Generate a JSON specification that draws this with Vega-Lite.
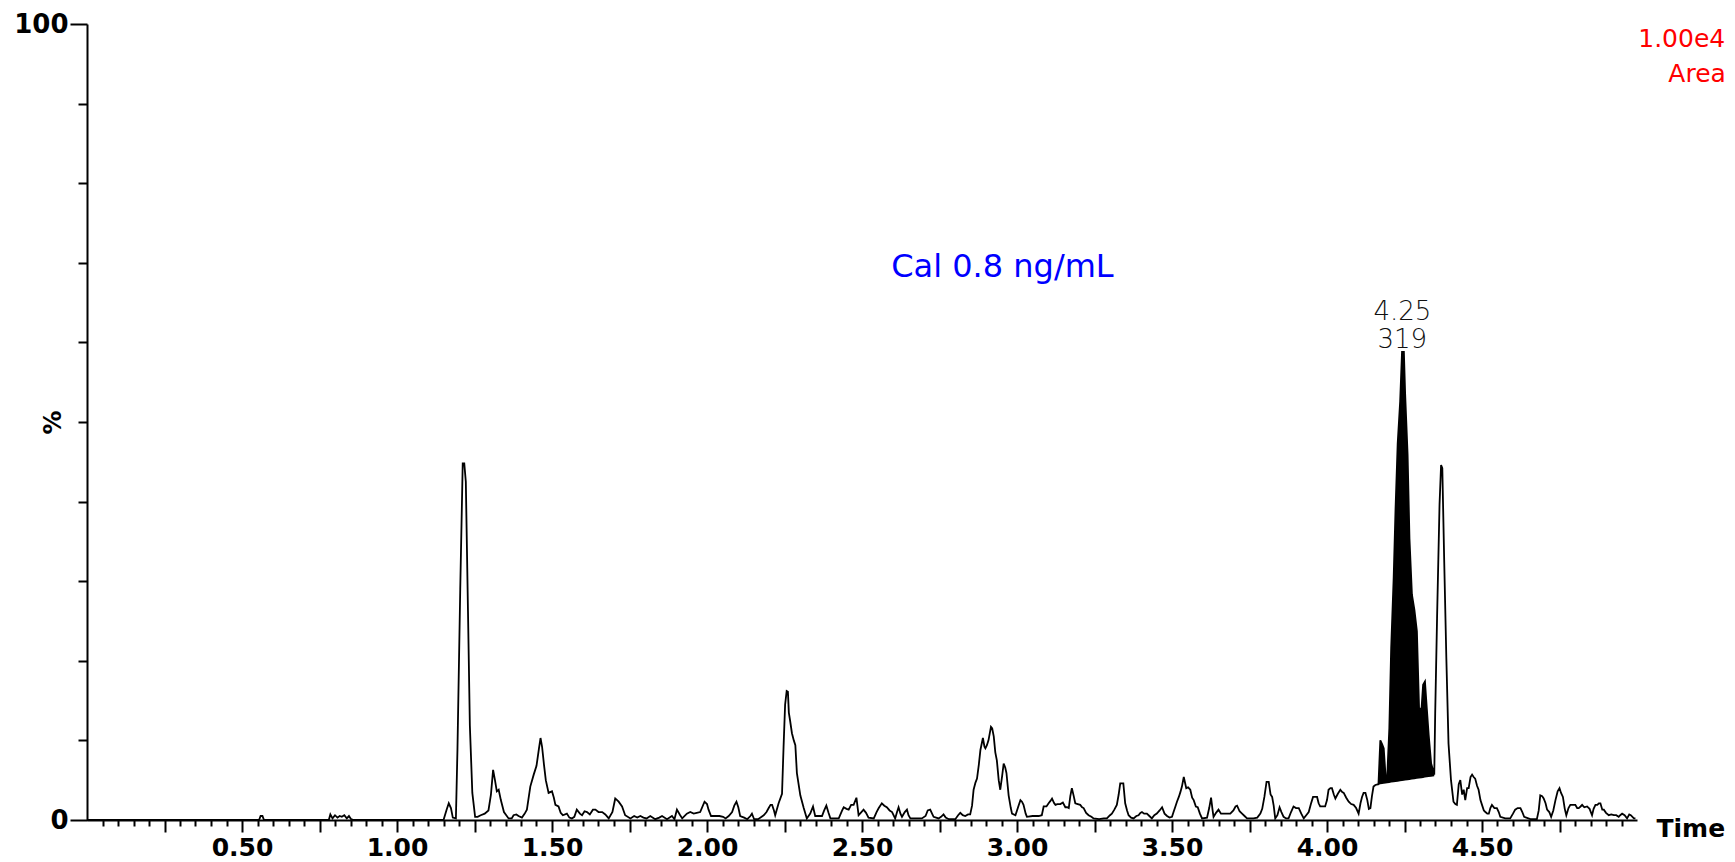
{
  "$schema": "https://vega.github.io/schema/vega-lite/v6.json",
  "width": 1550,
  "height": 796,
  "autosize": {"type": "none"},
  "padding": {"left": 87, "top": 24, "right": 98, "bottom": 42},
  "background": "white",
  "config": {"view": {"stroke": null}, "font": "DejaVu Sans"},
  "datasets": {
    "trace": [
      {"t":0.000,"v":0},{"t":0.555,"v":0},{"t":0.560,"v":0.5},{"t":0.566,"v":0.5},{"t":0.571,"v":0},{"t":0.780,"v":0},
      {"t":0.785,"v":0.7},{"t":0.792,"v":0.2},{"t":0.800,"v":0.6},{"t":0.808,"v":0.3},{"t":0.815,"v":0.5},{"t":0.822,"v":0.4},
      {"t":0.830,"v":0.6},{"t":0.838,"v":0.2},{"t":0.845,"v":0.5},{"t":0.852,"v":0.1},{"t":0.860,"v":0},{"t":1.150,"v":0},
      {"t":1.160,"v":1.3},{"t":1.167,"v":2.1},{"t":1.174,"v":1.5},{"t":1.180,"v":0.3},{"t":1.190,"v":0.2},{"t":1.195,"v":8.8},
      {"t":1.204,"v":29},{"t":1.212,"v":44.8},{"t":1.217,"v":44.8},{"t":1.222,"v":42.5},{"t":1.229,"v":26.2},{"t":1.235,"v":11.9},
      {"t":1.243,"v":3.4},{"t":1.252,"v":0.4},{"t":1.260,"v":0.4},{"t":1.270,"v":0.6},{"t":1.283,"v":0.8},{"t":1.295,"v":1.2},
      {"t":1.303,"v":3.2},{"t":1.310,"v":6.3},{"t":1.316,"v":5.0},{"t":1.322,"v":3.6},{"t":1.328,"v":3.8},{"t":1.335,"v":2.5},
      {"t":1.345,"v":1.0},{"t":1.360,"v":0.2},{"t":1.370,"v":0.2},{"t":1.376,"v":0.6},{"t":1.385,"v":0.7},{"t":1.392,"v":0.5},
      {"t":1.403,"v":0.3},{"t":1.412,"v":0.8},{"t":1.419,"v":1.3},{"t":1.430,"v":4.2},{"t":1.441,"v":5.7},{"t":1.450,"v":6.8},
      {"t":1.458,"v":9.0},{"t":1.463,"v":10.3},{"t":1.468,"v":9.2},{"t":1.474,"v":7.0},{"t":1.480,"v":5.0},{"t":1.489,"v":3.4},
      {"t":1.500,"v":3.6},{"t":1.506,"v":2.8},{"t":1.511,"v":1.9},{"t":1.521,"v":1.7},{"t":1.528,"v":0.9},{"t":1.535,"v":0.6},
      {"t":1.548,"v":0.8},{"t":1.556,"v":0.3},{"t":1.564,"v":0.2},{"t":1.572,"v":0.4},{"t":1.580,"v":1.3},{"t":1.590,"v":0.8},
      {"t":1.597,"v":0.6},{"t":1.605,"v":1.1},{"t":1.613,"v":1.0},{"t":1.622,"v":0.7},{"t":1.632,"v":1.3},{"t":1.640,"v":1.3},
      {"t":1.650,"v":1.0},{"t":1.662,"v":1.0},{"t":1.672,"v":0.7},{"t":1.683,"v":0.2},{"t":1.695,"v":1.0},{"t":1.704,"v":2.7},
      {"t":1.710,"v":2.5},{"t":1.715,"v":2.3},{"t":1.726,"v":1.7},{"t":1.736,"v":0.6},{"t":1.753,"v":0.2},{"t":1.765,"v":0.5},
      {"t":1.775,"v":0.3},{"t":1.785,"v":0.5},{"t":1.795,"v":0.3},{"t":1.805,"v":0.2},{"t":1.817,"v":0.5},{"t":1.833,"v":0.1},
      {"t":1.846,"v":0.3},{"t":1.855,"v":0.5},{"t":1.871,"v":0.1},{"t":1.887,"v":0.5},{"t":1.895,"v":0.1},{"t":1.903,"v":1.3},
      {"t":1.912,"v":0.7},{"t":1.920,"v":0.2},{"t":1.935,"v":0.8},{"t":1.946,"v":1.0},{"t":1.957,"v":0.8},{"t":1.967,"v":0.9},
      {"t":1.978,"v":1.0},{"t":1.992,"v":2.3},{"t":2.000,"v":2.0},{"t":2.005,"v":1.3},{"t":2.013,"v":0.5},{"t":2.021,"v":0.5},
      {"t":2.040,"v":0.5},{"t":2.052,"v":0.4},{"t":2.060,"v":0.2},{"t":2.070,"v":0.5},{"t":2.081,"v":1.0},{"t":2.088,"v":1.8},
      {"t":2.095,"v":2.3},{"t":2.101,"v":1.6},{"t":2.107,"v":0.5},{"t":2.120,"v":0.3},{"t":2.130,"v":0.1},{"t":2.140,"v":0.5},
      {"t":2.145,"v":0.8},{"t":2.152,"v":0.1},{"t":2.165,"v":0.1},{"t":2.183,"v":0.6},{"t":2.192,"v":1.0},{"t":2.199,"v":1.5},
      {"t":2.205,"v":1.9},{"t":2.210,"v":1.9},{"t":2.216,"v":1.2},{"t":2.220,"v":0.6},{"t":2.231,"v":2.1},{"t":2.242,"v":3.3},
      {"t":2.247,"v":9.2},{"t":2.252,"v":14.5},{"t":2.257,"v":16.2},{"t":2.261,"v":16.1},{"t":2.264,"v":13.5},{"t":2.268,"v":12.5},
      {"t":2.274,"v":10.9},{"t":2.280,"v":10.0},{"t":2.285,"v":9.4},{"t":2.290,"v":5.9},{"t":2.301,"v":3.1},{"t":2.312,"v":1.5},
      {"t":2.322,"v":0.2},{"t":2.333,"v":0.8},{"t":2.342,"v":1.7},{"t":2.349,"v":0.5},{"t":2.360,"v":0.5},{"t":2.371,"v":0.5},
      {"t":2.378,"v":1.2},{"t":2.385,"v":1.8},{"t":2.392,"v":0.9},{"t":2.398,"v":0.2},{"t":2.410,"v":0.2},{"t":2.425,"v":0.2},
      {"t":2.436,"v":1.2},{"t":2.441,"v":1.6},{"t":2.450,"v":1.4},{"t":2.457,"v":1.3},{"t":2.465,"v":1.9},{"t":2.473,"v":1.9},
      {"t":2.482,"v":2.8},{"t":2.489,"v":0.6},{"t":2.498,"v":1.0},{"t":2.505,"v":1.3},{"t":2.513,"v":0.9},{"t":2.521,"v":0.3},
      {"t":2.538,"v":0.2},{"t":2.547,"v":1.0},{"t":2.554,"v":1.5},{"t":2.564,"v":2.1},{"t":2.572,"v":1.8},{"t":2.580,"v":1.6},
      {"t":2.589,"v":1.2},{"t":2.597,"v":1.0},{"t":2.607,"v":0.2},{"t":2.613,"v":1.0},{"t":2.618,"v":1.6},{"t":2.624,"v":0.8},
      {"t":2.629,"v":0.4},{"t":2.638,"v":1.0},{"t":2.645,"v":1.3},{"t":2.650,"v":0.6},{"t":2.656,"v":0.2},{"t":2.677,"v":0.2},
      {"t":2.693,"v":0.2},{"t":2.705,"v":0.5},{"t":2.712,"v":1.2},{"t":2.720,"v":1.3},{"t":2.726,"v":0.8},{"t":2.731,"v":0.4},
      {"t":2.747,"v":0.2},{"t":2.755,"v":0.4},{"t":2.763,"v":0.7},{"t":2.770,"v":0.3},{"t":2.780,"v":0.1},{"t":2.801,"v":0.1},
      {"t":2.810,"v":0.6},{"t":2.817,"v":0.9},{"t":2.825,"v":0.6},{"t":2.833,"v":0.5},{"t":2.842,"v":0.7},{"t":2.849,"v":0.7},
      {"t":2.855,"v":1.8},{"t":2.860,"v":3.8},{"t":2.866,"v":4.7},{"t":2.871,"v":5.2},{"t":2.877,"v":7.0},{"t":2.882,"v":8.8},
      {"t":2.890,"v":10.3},{"t":2.895,"v":9.2},{"t":2.898,"v":9.0},{"t":2.903,"v":9.4},{"t":2.908,"v":10.0},{"t":2.916,"v":11.7},
      {"t":2.920,"v":11.5},{"t":2.925,"v":10.5},{"t":2.930,"v":8.5},{"t":2.935,"v":7.5},{"t":2.941,"v":5.0},{"t":2.946,"v":3.8},
      {"t":2.952,"v":5.5},{"t":2.957,"v":7.1},{"t":2.962,"v":6.6},{"t":2.966,"v":5.9},{"t":2.973,"v":3.1},{"t":2.980,"v":1.5},
      {"t":2.984,"v":0.8},{"t":2.995,"v":0.6},{"t":3.005,"v":1.8},{"t":3.011,"v":2.5},{"t":3.016,"v":2.3},{"t":3.021,"v":1.9},
      {"t":3.028,"v":0.8},{"t":3.032,"v":0.4},{"t":3.050,"v":0.5},{"t":3.070,"v":0.5},{"t":3.080,"v":0.6},{"t":3.086,"v":1.7},
      {"t":3.095,"v":1.7},{"t":3.102,"v":2.1},{"t":3.108,"v":2.4},{"t":3.113,"v":2.7},{"t":3.120,"v":2.1},{"t":3.124,"v":1.9},
      {"t":3.130,"v":2.0},{"t":3.140,"v":2.0},{"t":3.148,"v":2.2},{"t":3.156,"v":1.6},{"t":3.162,"v":1.6},{"t":3.167,"v":1.5},
      {"t":3.172,"v":3.0},{"t":3.177,"v":4.0},{"t":3.183,"v":3.0},{"t":3.188,"v":2.1},{"t":3.196,"v":2.0},{"t":3.204,"v":1.9},
      {"t":3.210,"v":1.6},{"t":3.215,"v":1.5},{"t":3.223,"v":0.9},{"t":3.231,"v":0.6},{"t":3.240,"v":0.4},{"t":3.247,"v":0.2},
      {"t":3.265,"v":0.1},{"t":3.280,"v":0.2},{"t":3.290,"v":0.2},{"t":3.300,"v":0.6},{"t":3.306,"v":0.8},{"t":3.314,"v":1.3},
      {"t":3.322,"v":1.9},{"t":3.328,"v":3.2},{"t":3.333,"v":4.6},{"t":3.343,"v":4.6},{"t":3.349,"v":2.1},{"t":3.355,"v":1.2},
      {"t":3.360,"v":0.6},{"t":3.368,"v":0.3},{"t":3.376,"v":0.2},{"t":3.385,"v":0.5},{"t":3.392,"v":0.6},{"t":3.398,"v":0.9},
      {"t":3.403,"v":1.0},{"t":3.410,"v":0.8},{"t":3.419,"v":0.8},{"t":3.427,"v":0.5},{"t":3.435,"v":0.2},{"t":3.443,"v":0.6},
      {"t":3.451,"v":0.8},{"t":3.460,"v":1.2},{"t":3.468,"v":1.6},{"t":3.476,"v":0.8},{"t":3.484,"v":0.5},{"t":3.492,"v":0.3},
      {"t":3.500,"v":0.4},{"t":3.505,"v":1.0},{"t":3.511,"v":1.7},{"t":3.516,"v":2.3},{"t":3.522,"v":2.9},{"t":3.527,"v":3.5},
      {"t":3.532,"v":4.2},{"t":3.538,"v":5.4},{"t":3.546,"v":4.0},{"t":3.552,"v":4.1},{"t":3.559,"v":3.8},{"t":3.565,"v":2.8},
      {"t":3.570,"v":2.5},{"t":3.577,"v":1.7},{"t":3.583,"v":1.6},{"t":3.590,"v":0.8},{"t":3.597,"v":0.2},{"t":3.613,"v":0.3},
      {"t":3.620,"v":1.5},{"t":3.626,"v":2.8},{"t":3.631,"v":1.2},{"t":3.634,"v":0.4},{"t":3.642,"v":0.9},{"t":3.650,"v":1.3},
      {"t":3.658,"v":0.8},{"t":3.667,"v":0.8},{"t":3.677,"v":0.8},{"t":3.688,"v":0.8},{"t":3.698,"v":1.2},{"t":3.705,"v":1.7},
      {"t":3.710,"v":1.8},{"t":3.718,"v":1.1},{"t":3.726,"v":0.8},{"t":3.734,"v":0.5},{"t":3.742,"v":0.2},{"t":3.763,"v":0.2},
      {"t":3.775,"v":0.3},{"t":3.785,"v":0.8},{"t":3.791,"v":1.4},{"t":3.798,"v":2.9},{"t":3.805,"v":4.8},{"t":3.812,"v":4.8},
      {"t":3.818,"v":3.2},{"t":3.823,"v":2.9},{"t":3.828,"v":1.8},{"t":3.833,"v":0.2},{"t":3.840,"v":0.6},{"t":3.847,"v":1.6},
      {"t":3.853,"v":1.0},{"t":3.860,"v":0.4},{"t":3.868,"v":0.2},{"t":3.876,"v":0.2},{"t":3.884,"v":1.0},{"t":3.892,"v":1.7},
      {"t":3.900,"v":1.5},{"t":3.909,"v":1.5},{"t":3.917,"v":0.8},{"t":3.925,"v":0.2},{"t":3.933,"v":0.6},{"t":3.941,"v":1.0},
      {"t":3.948,"v":2.0},{"t":3.955,"v":2.9},{"t":3.962,"v":2.9},{"t":3.968,"v":2.9},{"t":3.973,"v":2.1},{"t":3.978,"v":1.7},
      {"t":3.986,"v":1.7},{"t":3.994,"v":1.7},{"t":4.000,"v":2.5},{"t":4.005,"v":3.8},{"t":4.011,"v":4.0},{"t":4.016,"v":4.0},
      {"t":4.022,"v":3.2},{"t":4.027,"v":2.7},{"t":4.035,"v":3.3},{"t":4.043,"v":3.8},{"t":4.049,"v":3.5},{"t":4.054,"v":3.4},
      {"t":4.062,"v":2.8},{"t":4.070,"v":2.3},{"t":4.078,"v":2.0},{"t":4.086,"v":1.9},{"t":4.094,"v":1.5},{"t":4.102,"v":0.8},
      {"t":4.108,"v":2.1},{"t":4.113,"v":2.9},{"t":4.118,"v":3.4},{"t":4.124,"v":3.4},{"t":4.130,"v":2.5},{"t":4.135,"v":1.4},
      {"t":4.140,"v":1.5},{"t":4.145,"v":3.0},{"t":4.150,"v":4.2},{"t":4.156,"v":4.4},{"t":4.166,"v":4.5},{"t":4.172,"v":10.0},
      {"t":4.178,"v":9.5},{"t":4.183,"v":9.0},{"t":4.189,"v":5.5},{"t":4.194,"v":5.2},{"t":4.201,"v":11.5},{"t":4.207,"v":21.6},
      {"t":4.215,"v":30.4},{"t":4.221,"v":39},{"t":4.228,"v":47.3},{"t":4.236,"v":52.6},{"t":4.242,"v":58.8},{"t":4.248,"v":58.8},
      {"t":4.252,"v":53.6},{"t":4.260,"v":45.9},{"t":4.266,"v":35.4},{"t":4.274,"v":28.3},{"t":4.282,"v":26.4},{"t":4.290,"v":23.7},
      {"t":4.297,"v":14.0},{"t":4.305,"v":14.0},{"t":4.310,"v":17.0},{"t":4.316,"v":17.4},{"t":4.322,"v":14.0},{"t":4.328,"v":10.7},
      {"t":4.336,"v":7.1},{"t":4.346,"v":5.7},{"t":4.349,"v":13.4},{"t":4.355,"v":25.3},{"t":4.363,"v":39.6},{"t":4.368,"v":44.6},
      {"t":4.372,"v":44.2},{"t":4.378,"v":32.7},{"t":4.385,"v":20.3},{"t":4.392,"v":9.6},{"t":4.400,"v":5.0},{"t":4.408,"v":2.3},
      {"t":4.414,"v":2.0},{"t":4.419,"v":1.9},{"t":4.425,"v":4.5},{"t":4.430,"v":5.0},{"t":4.436,"v":3.2},{"t":4.441,"v":3.8},
      {"t":4.446,"v":2.5},{"t":4.452,"v":4.0},{"t":4.457,"v":4.0},{"t":4.463,"v":5.4},{"t":4.468,"v":5.7},{"t":4.473,"v":5.4},
      {"t":4.478,"v":5.2},{"t":4.484,"v":4.3},{"t":4.489,"v":3.8},{"t":4.495,"v":2.5},{"t":4.500,"v":1.9},{"t":4.506,"v":1.2},
      {"t":4.511,"v":1.0},{"t":4.517,"v":0.8},{"t":4.522,"v":0.8},{"t":4.527,"v":1.5},{"t":4.532,"v":1.9},{"t":4.540,"v":1.5},
      {"t":4.548,"v":1.5},{"t":4.554,"v":1.0},{"t":4.559,"v":0.4},{"t":4.575,"v":0.2},{"t":4.591,"v":0.2},{"t":4.600,"v":0.8},
      {"t":4.607,"v":1.3},{"t":4.615,"v":1.5},{"t":4.624,"v":1.5},{"t":4.630,"v":1.0},{"t":4.636,"v":0.4},{"t":4.656,"v":0.1},
      {"t":4.677,"v":0.1},{"t":4.683,"v":1.2},{"t":4.688,"v":3.1},{"t":4.694,"v":3.0},{"t":4.699,"v":2.7},{"t":4.705,"v":2.1},
      {"t":4.710,"v":1.3},{"t":4.717,"v":1.0},{"t":4.723,"v":0.4},{"t":4.730,"v":1.2},{"t":4.737,"v":2.5},{"t":4.744,"v":3.6},
      {"t":4.750,"v":4.0},{"t":4.755,"v":3.4},{"t":4.761,"v":2.9},{"t":4.767,"v":1.4},{"t":4.772,"v":0.6},{"t":4.779,"v":1.5},
      {"t":4.785,"v":1.9},{"t":4.793,"v":1.9},{"t":4.801,"v":1.9},{"t":4.807,"v":1.5},{"t":4.812,"v":1.5},{"t":4.818,"v":1.7},
      {"t":4.823,"v":1.9},{"t":4.830,"v":1.6},{"t":4.839,"v":1.7},{"t":4.847,"v":1.4},{"t":4.855,"v":0.6},{"t":4.860,"v":1.4},
      {"t":4.866,"v":1.9},{"t":4.872,"v":1.9},{"t":4.877,"v":2.1},{"t":4.882,"v":2.1},{"t":4.888,"v":1.3},{"t":4.893,"v":1.3},
      {"t":4.900,"v":0.9},{"t":4.909,"v":0.6},{"t":4.917,"v":0.7},{"t":4.925,"v":0.6},{"t":4.933,"v":0.6},{"t":4.941,"v":0.4},
      {"t":4.946,"v":0.6},{"t":4.952,"v":0.8},{"t":4.960,"v":0.6},{"t":4.968,"v":0.2},{"t":4.975,"v":0.7},{"t":4.980,"v":0.6},
      {"t":4.990,"v":0.2},{"t":4.995,"v":0.2}
    ],
    "peak": [
      {"t":4.156,"v":4.4,"b":4.40},{"t":4.166,"v":4.5,"b":4.46},{"t":4.172,"v":10.0,"b":4.49},{"t":4.178,"v":9.5,"b":4.53},
      {"t":4.183,"v":9.0,"b":4.56},{"t":4.189,"v":5.5,"b":4.59},{"t":4.194,"v":5.2,"b":4.62},{"t":4.201,"v":11.5,"b":4.66},
      {"t":4.207,"v":21.6,"b":4.70},{"t":4.215,"v":30.4,"b":4.74},{"t":4.221,"v":39,"b":4.78},{"t":4.228,"v":47.3,"b":4.82},
      {"t":4.236,"v":52.6,"b":4.86},{"t":4.242,"v":58.8,"b":4.90},{"t":4.248,"v":58.8,"b":4.93},{"t":4.252,"v":53.6,"b":4.96},
      {"t":4.260,"v":45.9,"b":5.00},{"t":4.266,"v":35.4,"b":5.04},{"t":4.274,"v":28.3,"b":5.08},{"t":4.282,"v":26.4,"b":5.13},
      {"t":4.290,"v":23.7,"b":5.18},{"t":4.297,"v":14.0,"b":5.22},{"t":4.305,"v":14.0,"b":5.26},{"t":4.310,"v":17.0,"b":5.29},
      {"t":4.316,"v":17.4,"b":5.33},{"t":4.322,"v":14.0,"b":5.36},{"t":4.328,"v":10.7,"b":5.40},{"t":4.336,"v":7.1,"b":5.44},
      {"t":4.346,"v":5.7,"b":5.50}
    ],
    "cal": [{"t":2.953,"v":68.2,"label":"Cal 0.8 ng/mL"}],
    "rt": [{"t":4.243,"v":62.8,"label":"4.25"},{"t":4.243,"v":59.3,"label":"319"}],
    "scaleinfo": [{"t":5.004,"v":97.1,"label":"1.00e4"},{"t":5.101,"v":92.7,"label":"Area"}]
  },
  "layer": [
    {
      "data": {"name": "peak"},
      "mark": {"type": "area", "color": "black", "interpolate": "linear"},
      "encoding": {
        "x": {"field": "t", "type": "quantitative", "scale": {"domain": [0, 5], "nice": false, "zero": false},
          "axis": {"orient": "bottom", "values": [0.05,0.1,0.15,0.2,0.3,0.35,0.4,0.45,0.55,0.6,0.65,0.7,0.8,0.85,0.9,0.95,1.05,1.1,1.15,1.2,1.3,1.35,1.4,1.45,1.55,1.6,1.65,1.7,1.8,1.85,1.9,1.95,2.05,2.1,2.15,2.2,2.3,2.35,2.4,2.45,2.55,2.6,2.65,2.7,2.8,2.85,2.9,2.95,3.05,3.1,3.15,3.2,3.3,3.35,3.4,3.45,3.55,3.6,3.65,3.7,3.8,3.85,3.9,3.95,4.05,4.1,4.15,4.2,4.3,4.35,4.4,4.45,4.55,4.6,4.65,4.7,4.8,4.85,4.9,4.95],
            "labels": false, "domain": false, "grid": false, "title": null, "tickSize": 6, "tickWidth": 2, "tickColor": "black"}},
        "y": {"field": "v", "type": "quantitative", "scale": {"domain": [0, 100], "nice": false},
          "axis": {"orient": "left", "values": [10,20,30,40,50,60,70,80,90], "labels": false, "domain": false, "grid": false, "title": null, "tickSize": 9, "tickWidth": 2, "tickColor": "black"}},
        "y2": {"field": "b"}
      }
    },
    {
      "data": {"name": "trace"},
      "mark": {"type": "line", "color": "black", "strokeWidth": 1.8, "interpolate": "linear"},
      "encoding": {
        "x": {"field": "t", "type": "quantitative", "scale": {"domain": [0, 5], "nice": false, "zero": false},
          "axis": {"orient": "bottom", "values": [0.25,0.5,0.75,1,1.25,1.5,1.75,2,2.25,2.5,2.75,3,3.25,3.5,3.75,4,4.25,4.5,4.75],
            "labelExpr": "round(datum.value*100) % 50 == 0 ? format(datum.value, '.2f') : ''",
            "labelFontSize": 25, "labelFontWeight": "bold", "labelColor": "black", "labelPadding": 3, "labelOverlap": false, "labelFlush": false,
            "domain": true, "domainColor": "black", "domainWidth": 2, "grid": false,
            "tickSize": 12, "tickWidth": 2, "tickColor": "black",
            "title": "Time", "titleFontSize": 25, "titleFontWeight": "bold", "titleColor": "black",
            "titleX": 1569, "titleY": 8, "titleAlign": "left", "titleBaseline": "middle", "titleAngle": 0}},
        "y": {"field": "v", "type": "quantitative", "scale": {"domain": [0, 100], "nice": false},
          "axis": {"orient": "left", "values": [0, 100], "labelFontSize": 26, "labelFontWeight": "bold", "labelColor": "black", "labelPadding": 2,
            "domain": true, "domainColor": "black", "domainWidth": 2, "grid": false,
            "tickSize": 17, "tickWidth": 2, "tickColor": "black",
            "title": "%", "titleFontSize": 24, "titleFontWeight": "bold", "titleColor": "black",
            "titleX": -34, "titleY": 398, "titleAngle": -90, "titleAlign": "center", "titleBaseline": "middle"}}
      }
    },
    {
      "data": {"name": "cal"},
      "mark": {"type": "text", "color": "#0000FF", "fontSize": 32, "align": "center", "baseline": "alphabetic"},
      "encoding": {
        "x": {"field": "t", "type": "quantitative", "scale": {"domain": [0, 5], "nice": false, "zero": false}, "axis": null},
        "y": {"field": "v", "type": "quantitative", "scale": {"domain": [0, 100], "nice": false}, "axis": null},
        "text": {"field": "label"}
      }
    },
    {
      "data": {"name": "rt"},
      "mark": {"type": "text", "color": "#111111", "fontSize": 26, "fontWeight": 300, "align": "center", "baseline": "alphabetic"},
      "encoding": {
        "x": {"field": "t", "type": "quantitative", "scale": {"domain": [0, 5], "nice": false, "zero": false}, "axis": null},
        "y": {"field": "v", "type": "quantitative", "scale": {"domain": [0, 100], "nice": false}, "axis": null},
        "text": {"field": "label"}
      }
    },
    {
      "data": {"name": "scaleinfo"},
      "mark": {"type": "text", "color": "#FF0000", "fontSize": 25, "align": "left", "baseline": "alphabetic"},
      "encoding": {
        "x": {"field": "t", "type": "quantitative", "scale": {"domain": [0, 5], "nice": false, "zero": false}, "axis": null},
        "y": {"field": "v", "type": "quantitative", "scale": {"domain": [0, 100], "nice": false}, "axis": null},
        "text": {"field": "label"}
      }
    }
  ],
  "resolve": {"axis": {"x": "independent", "y": "independent"}}
}
